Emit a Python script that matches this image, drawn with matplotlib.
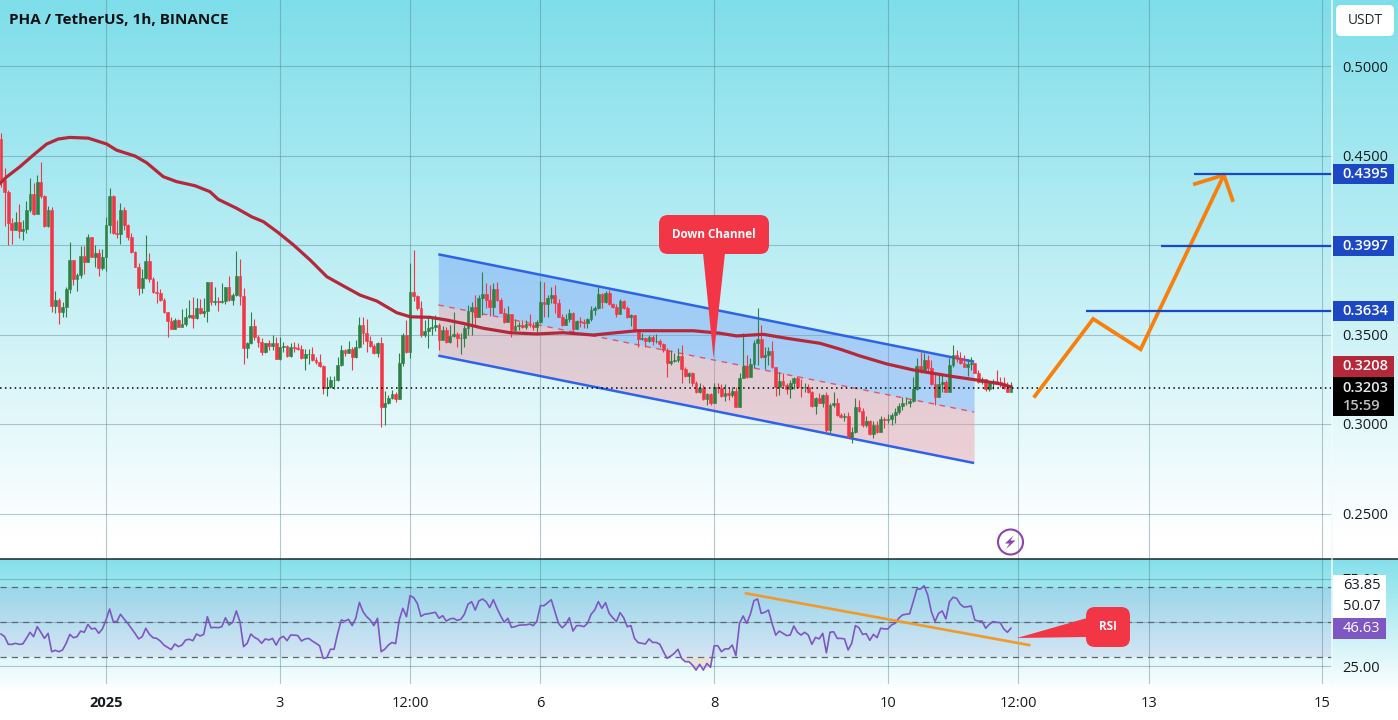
import numpy as np
import matplotlib
matplotlib.use("Agg")
import matplotlib.pyplot as plt
from matplotlib.patches import FancyBboxPatch, Polygon, Rectangle, Circle

plt.rcParams['font.family'] = ['Open Sans', 'DejaVu Sans']

W, H = 1398, 720
PANE_R = 1332      # right edge of the chart panes
MAIN_B = 559       # main pane / rsi pane border
RSI_B = 684        # bottom of rsi pane

first_open = 0.4592
closes = [
    .4363, .4298, .4125, .4084, .4130, .4080, .4087, .4195, .4285, .4173,
    .4354, .4273, .4106, .4195, .3659, .3693, .3627, .3652, .3756, .3916,
    .3808, .3832, .3938, .3907, .4043, .3935, .3953, .3869, .3931, .4111,
    .4273, .4065, .4061, .4195, .4111, .4043, .3963, .3879, .3761, .3814,
    .3910, .3808, .3739, .3733, .3693, .3624, .3575, .3531, .3581, .3544,
    .3558, .3599, .3607, .3590, .3646, .3618, .3629, .3793, .3683, .3687,
    .3680, .3685, .3763, .3693, .3722, .3827, .3715, .3424, .3454, .3547,
    .3488, .3460, .3404, .3450, .3436, .3450, .3363, .3428, .3436, .3380,
    .3428, .3423, .3421, .3367, .3391, .3393, .3357, .3348, .3324, .3199,
    .3208, .3246, .3246, .3328, .3413, .3398, .3417, .3372, .3428, .3553,
    .3506, .3465, .3436, .3395, .3450, .3093, .3115, .3147, .3167, .3141,
    .3339, .3497, .3402, .3735, .3715, .3646, .3497, .3521, .3534, .3544,
    .3553, .3469, .3525, .3460, .3492, .3501, .3479, .3482, .3538, .3633,
    .3656, .3600, .3702, .3724, .3693, .3656, .3752, .3693, .3622, .3572,
    .3615, .3525, .3548, .3553, .3544, .3559, .3555, .3540, .3572, .3684,
    .3670, .3702, .3721, .3678, .3600, .3553, .3585, .3622, .3529, .3577,
    .3572, .3566, .3585, .3637, .3646, .3726, .3683, .3734, .3670, .3656,
    .3615, .3689, .3646, .3596, .3609, .3522, .3475, .3479, .3464, .3488,
    .3464, .3466, .3447, .3414, .3339, .3350, .3358, .3380, .3306, .3268,
    .3283, .3227, .3181, .3199, .3138, .3168, .3116, .3205, .3203, .3157,
    .3171, .3162, .3185, .3097, .3256, .3324, .3261, .3336, .3451, .3473,
    .3373, .3386, .3410, .3317, .3209, .3243, .3218, .3194, .3228, .3259,
    .3209, .3205, .3209, .3181, .3101, .3144, .3120, .3161, .2967, .3107,
    .3120, .3051, .3038, .3045, .2926, .2958, .3097, .3075, .2995, .3014,
    .2945, .2995, .2958, .3027, .3023, .3030, .3049, .3069, .3101, .3116,
    .3120, .3127, .3194, .3324, .3302, .3358, .3311, .3222, .3153, .3222,
    .3237, .3181, .3330, .3386, .3367, .3343, .3321, .3336, .3339, .3287,
    .3237, .3250, .3194, .3231, .3243, .3237, .3228, .3203, .3181, .3203,
]
highs = [
    .4624, .4428, .4307, .4149, .4182, .4229, .4139, .4246, .4372, .4344,
    .4391, .4465, .4279, .4218, .4210, .3743, .3702, .3683, .3767, .4017,
    .3916, .3842, .3994, .3994, .4059, .4046, .3998, .3976, .3976, .4158,
    .4316, .4279, .4139, .4236, .4214, .4117, .4065, .3968, .3897, .3864,
    .4056, .3953, .3823, .3799, .3752, .3702, .3627, .3599, .3590, .3585,
    .3640, .3646, .3692, .3711, .3702, .3696, .3702, .3795, .3795, .3767,
    .3711, .3789, .3767, .3827, .3730, .3968, .3920, .3758, .3460, .3625,
    .3585, .3497, .3478, .3450, .3469, .3497, .3488, .3488, .3460, .3441,
    .3454, .3460, .3450, .3441, .3417, .3417, .3432, .3376, .3391, .3329,
    .3261, .3268, .3268, .3372, .3439, .3421, .3463, .3432, .3469, .3599,
    .3599, .3588, .3491, .3447, .3460, .3484, .3186, .3162, .3190, .3180,
    .3395, .3506, .3581, .3897, .3972, .3720, .3689, .3581, .3590, .3590,
    .3609, .3562, .3548, .3540, .3553, .3628, .3516, .3507, .3553, .3665,
    .3684, .3721, .3721, .3851, .3786, .3777, .3786, .3795, .3702, .3646,
    .3659, .3615, .3585, .3572, .3581, .3581, .3615, .3572, .3581, .3801,
    .3795, .3721, .3767, .3777, .3697, .3615, .3615, .3641, .3628, .3581,
    .3596, .3585, .3590, .3659, .3659, .3764, .3730, .3745, .3749, .3678,
    .3670, .3697, .3693, .3659, .3615, .3609, .3522, .3507, .3484, .3497,
    .3497, .3503, .3473, .3455, .3423, .3414, .3395, .3423, .3441, .3320,
    .3292, .3292, .3242, .3227, .3218, .3175, .3171, .3227, .3227, .3224,
    .3224, .3200, .3205, .3209, .3287, .3507, .3386, .3367, .3470, .3647,
    .3553, .3432, .3432, .3466, .3317, .3293, .3283, .3228, .3246, .3265,
    .3269, .3250, .3231, .3224, .3185, .3149, .3172, .3168, .3179, .3120,
    .3181, .3144, .3064, .3064, .3069, .2986, .3144, .3135, .3088, .3045,
    .3023, .3014, .3014, .3045, .3041, .3056, .3060, .3088, .3116, .3149,
    .3153, .3138, .3261, .3367, .3404, .3395, .3386, .3358, .3283, .3283,
    .3274, .3246, .3367, .3442, .3414, .3405, .3386, .3362, .3373, .3343,
    .3302, .3261, .3254, .3243, .3250, .3302, .3261, .3261, .3237, .3237,
]
lows = [
    .4326, .4106, .3999, .4005, .4084, .4037, .4028, .4065, .4186, .4167,
    .4177, .4260, .4102, .4098, .3627, .3618, .3558, .3599, .3599, .3730,
    .3776, .3745, .3814, .3838, .3907, .3931, .3879, .3827, .3860, .3856,
    .4065, .4061, .4037, .4005, .4084, .4028, .3957, .3875, .3720, .3733,
    .3808, .3795, .3733, .3674, .3689, .3618, .3488, .3529, .3529, .3540,
    .3540, .3547, .3590, .3534, .3586, .3614, .3599, .3568, .3665, .3665,
    .3633, .3674, .3670, .3689, .3665, .3717, .3665, .3335, .3367, .3447,
    .3469, .3428, .3385, .3395, .3413, .3413, .3361, .3357, .3404, .3376,
    .3376, .3404, .3413, .3363, .3302, .3335, .3354, .3333, .3320, .3167,
    .3156, .3203, .3194, .3238, .3324, .3380, .3395, .3302, .3369, .3423,
    .3447, .3404, .3428, .3391, .3376, .2985, .2996, .3112, .3138, .3123,
    .3138, .3326, .3398, .3369, .3689, .3637, .3488, .3484, .3426, .3497,
    .3521, .3413, .3479, .3451, .3455, .3484, .3432, .3391, .3432, .3497,
    .3497, .3553, .3600, .3609, .3646, .3603, .3609, .3689, .3618, .3562,
    .3570, .3488, .3522, .3525, .3535, .3529, .3540, .3525, .3503, .3562,
    .3600, .3596, .3674, .3622, .3596, .3548, .3553, .3572, .3516, .3529,
    .3540, .3535, .3535, .3577, .3609, .3644, .3646, .3674, .3665, .3646,
    .3596, .3615, .3643, .3590, .3548, .3516, .3428, .3469, .3432, .3460,
    .3441, .3455, .3428, .3404, .3265, .3330, .3348, .3348, .3231, .3261,
    .3227, .3212, .3175, .3175, .3134, .3106, .3106, .3116, .3171, .3153,
    .3127, .3135, .3153, .3097, .3094, .3256, .3256, .3265, .3311, .3330,
    .3367, .3306, .3330, .3311, .3157, .3163, .3209, .3168, .3144, .3194,
    .3205, .3149, .3181, .3172, .3094, .3056, .3116, .3094, .2952, .2952,
    .3094, .3045, .3032, .3014, .2920, .2896, .2952, .3069, .2986, .2986,
    .2939, .2920, .2952, .2956, .2980, .3004, .2995, .3004, .3056, .3079,
    .3107, .3094, .3125, .3190, .3283, .3293, .3293, .3218, .3107, .3149,
    .3181, .3179, .3177, .3321, .3349, .3336, .3317, .3269, .3302, .3283,
    .3231, .3224, .3187, .3187, .3194, .3231, .3205, .3198, .3179, .3179,
]
rsi_values = [
    43.3, 41.8, 37.4, 37.4, 38.0, 37.4, 37.6, 40.8, 44.3, 41.8,
    47.5, 44.3, 40.8, 43.7, 33.2, 34.0, 33.2, 34.2, 38.0, 43.1,
    41.2, 41.8, 45.0, 44.3, 48.8, 46.2, 46.6, 43.7, 46.2, 51.3,
    57.6, 50.4, 50.4, 54.6, 51.9, 49.4, 46.6, 43.7, 40.5, 41.8,
    46.6, 43.1, 41.2, 40.8, 39.3, 37.0, 35.7, 34.4, 37.6, 36.1,
    37.0, 39.9, 40.3, 39.5, 43.3, 42.2, 43.1, 53.2, 46.9, 47.1,
    46.9, 47.5, 52.6, 48.5, 50.0, 56.5, 50.4, 36.1, 38.0, 43.3,
    41.4, 40.3, 38.0, 40.5, 39.9, 40.8, 37.0, 40.8, 42.0, 39.5,
    42.7, 42.7, 42.4, 39.3, 40.5, 40.8, 39.3, 38.0, 36.6, 29.4,
    29.8, 34.6, 34.6, 43.7, 51.3, 50.7, 51.7, 48.1, 52.3, 61.4,
    56.1, 53.2, 51.3, 48.1, 52.3, 33.2, 34.6, 37.0, 38.5, 37.8,
    51.3, 58.0, 53.2, 65.2, 64.1, 60.8, 53.4, 54.6, 54.9, 55.3,
    55.7, 52.3, 53.8, 50.7, 51.9, 52.3, 51.1, 51.7, 54.6, 60.3,
    61.8, 57.0, 62.2, 63.3, 61.8, 58.4, 62.9, 58.0, 53.8, 50.0,
    52.3, 47.1, 47.5, 48.3, 48.5, 48.5, 49.0, 48.1, 50.4, 59.5,
    59.5, 61.2, 62.9, 56.1, 49.4, 46.9, 48.8, 52.6, 45.0, 48.1,
    48.1, 47.5, 49.4, 54.6, 57.0, 61.8, 58.0, 61.2, 55.1, 52.6,
    50.4, 55.5, 52.6, 47.5, 48.1, 40.8, 38.4, 38.0, 37.6, 40.5,
    38.5, 38.5, 37.4, 33.2, 29.4, 30.7, 32.3, 34.6, 29.4, 27.5,
    27.5, 25.6, 22.7, 26.0, 22.7, 26.5, 24.3, 36.6, 36.6, 33.2,
    34.8, 34.8, 37.0, 30.9, 49.4, 53.6, 49.4, 54.6, 62.4, 63.3,
    55.1, 55.7, 57.0, 49.4, 42.7, 45.0, 43.7, 42.4, 42.7, 47.9,
    44.3, 42.7, 44.3, 42.7, 37.4, 41.4, 40.5, 43.7, 32.6, 44.3,
    44.6, 40.8, 40.8, 40.5, 34.2, 38.0, 48.1, 46.9, 43.1, 43.5,
    39.7, 43.1, 41.2, 46.6, 46.2, 46.2, 48.5, 49.4, 52.3, 54.2,
    54.6, 54.9, 61.8, 69.0, 69.0, 70.9, 65.6, 56.1, 50.4, 55.1,
    56.5, 51.9, 61.8, 64.3, 63.7, 60.3, 58.7, 58.9, 59.3, 51.3,
    50.7, 50.7, 46.6, 48.8, 50.4, 50.0, 49.8, 46.2, 44.3, 46.63,
]
ema_hours = [
    -29.3, -27.4, -23.8, -20.1, -16.4, -13.2, -10.0, -4.9, 0.2, 2.9, 8.0, 11.2,
    15.8, 19.5, 24.6, 28.7, 31.0, 36.1, 40.2, 43.5, 47.6, 51.8, 56.4, 61.0,
    65.6, 70.2, 74.8, 80.3, 84.0, 89.5, 94.1, 98.7, 104.2, 111.6, 119.0, 126.3,
    134.6, 141.0, 146.6, 154.0, 162.2, 169.6, 174.2, 181.6, 188.0, 197.2, 202.8,
    208.3, 215.6, 223.0, 228.5, 234.0, 240.5, 247.0, 250.0,
]
ema_values = [
    .4344, .4381, .4437, .4502, .4564, .4592, .4601, .4597, .4564, .4530, .4497, .4460,
    .4382, .4354, .4331, .4298, .4255, .4205, .4158, .4130, .4069, .4000, .3916, .3823,
    .3771, .3720, .3687, .3622, .3599, .3596, .3581, .3562, .3535, .3510, .3503, .3510,
    .3497, .3510, .3521, .3521, .3521, .3507, .3492, .3501, .3479, .3451, .3418,
    .3380, .3336, .3302, .3283, .3265, .3246, .3224, .3208,
]
# parallel channel drawn on the chart: start and end of each rail
channel_hours = [91.8, 239.8]
channel_top = [.3948, .3348]
channel_mid = [.3665, .3067]
channel_bottom = [.3382, .2782]
# projected path and target levels
path_hours = [256.6, 272.7, 285.8, 308.8]
path_prices = [.3156, .3587, .3417, .4391]
head_hours = [300.8, 308.8, 311.2]
head_prices = [.4341, .4391, .4251]
target_levels = [.4395, .3997, .3634]
target_starts = [300.6, 291.4, 270.7]
last_price = .3203
ema_last = .3208
rsi_last = 46.63
rsi_trend_hours = [176.8, 255.0]
rsi_trend_values = [66.55, 37.0]

price_ticks = [.25, .30, .35, .40, .45, .50]
price_labels = ['0.2500', '0.3000', '0.3500', '', '0.4500', '0.5000']
rsi_ticks = [25, 50, 75]
rsi_labels = ['25.00', '50.00', '75.00']
time_ticks = [0, 48, 84, 120, 168, 216, 252, 288, 336]
time_labels = ['2025', '3', '12:00', '6', '8', '10', '12:00', '13', '15']

hours = np.arange(len(closes)) - 29
opens = np.array([first_open] + closes[:-1])
closes = np.array(closes)
highs = np.array(highs)
lows = np.array(lows)
rsi_values = np.array(rsi_values)

GREEN = '#2f8044'
RED = '#f23645'
GRID = '#4f7f88'
BLUE = '#1a46c8'
ORANGE = '#f97f0c'
DARK = '#161c20'

fig = plt.figure(figsize=(W / 100, H / 100), dpi=100)


def pane(left, top, right, bottom, **kw):
    return fig.add_axes([left / W, 1 - bottom / H, (right - left) / W, (bottom - top) / H], **kw)


# background gradient, main pane then the lower part
bg = pane(0, 0, W, H)
bg.set_zorder(0)
bg.axis('off')
grad = np.zeros((H, 1, 3))
top_col = np.array([126, 222, 234]) / 255
t = np.clip(np.arange(MAIN_B) / 535, 0, 1)[:, None]
grad[:MAIN_B, 0, :] = top_col * (1 - t) + t
low_top = np.array([132, 224, 235]) / 255
t = np.clip(np.arange(H - MAIN_B) / 131, 0, 1)[:, None]
grad[MAIN_B:, 0, :] = low_top * (1 - t) + t
bg.imshow(grad, aspect='auto', extent=(0, W, H, 0), interpolation='nearest')
bg.set_xlim(0, W)
bg.set_ylim(H, 0)

xlim = ((0 - 106) / 3.62, (PANE_R - 106) / 3.62)

# main pane
ax = pane(0, 0, PANE_R, MAIN_B)
ax.set_zorder(2)
ax.patch.set_alpha(0)
ax.set_xlim(*xlim)
ax.set_ylim(.5 - (MAIN_B - 66) / 1790, .5 + 66 / 1790)
ax.set_xticks(time_ticks)
ax.set_yticks(price_ticks)
ax.set_yticklabels(price_labels)
ax.tick_params(axis='x', length=0, labelbottom=False)
ax.tick_params(axis='y', length=0, labelleft=False, labelright=True, pad=7.2, labelsize=10.5, labelcolor=DARK)
ax.grid(True, color=GRID, lw=0.8, alpha=0.42)
ax.set_axisbelow(True)
for s in ax.spines.values():
    s.set_visible(False)

ax.fill_between(channel_hours, channel_mid, channel_top, color='#6a9cf5', alpha=0.42, lw=0, zorder=1)
ax.fill_between(channel_hours, channel_bottom, channel_mid, color='#f08a98', alpha=0.38, lw=0, zorder=1)
ax.plot(channel_hours, channel_top, color='#2f62ea', lw=1.8, zorder=2, solid_capstyle='butt')
ax.plot(channel_hours, channel_bottom, color='#2f62ea', lw=1.8, zorder=2, solid_capstyle='butt')
ax.plot(channel_hours, channel_mid, color='#e0566a', lw=1, ls=(0, (4, 4)), zorder=2)

up = closes >= opens
for mask, col in ((up, GREEN), (~up, RED)):
    ax.vlines(hours[mask], lows[mask], highs[mask], color=col, lw=0.8, zorder=3)
    ax.bar(hours[mask], np.abs(closes - opens)[mask], width=0.78,
           bottom=np.minimum(closes, opens)[mask], color=col, edgecolor=col, lw=0.4, zorder=3)

ax.plot(ema_hours, ema_values, color='#b5283a', lw=2.3, zorder=4)
ax.axhline(last_price, color='black', lw=1.1, ls=(0, (1, 2.2)), zorder=4)

ax.plot(path_hours, path_prices, color=ORANGE, lw=2.7, zorder=5, solid_joinstyle='miter')
ax.plot(head_hours, head_prices, color=ORANGE, lw=2.7, zorder=5, solid_joinstyle='miter')
for lvl, st in zip(target_levels, target_starts):
    ax.plot([st, xlim[1]], [lvl, lvl], color=BLUE, lw=1.6, zorder=6, solid_capstyle='butt')

# rsi pane
ax2 = pane(0, MAIN_B, PANE_R, RSI_B)
ax2.set_zorder(2)
ax2.patch.set_alpha(0)
ax2.set_xlim(*xlim)
ax2.set_ylim(50 - (RSI_B - 622.3) / 1.75, 50 + (622.3 - MAIN_B) / 1.75)
ax2.set_xticks(time_ticks)
ax2.set_xticklabels(time_labels)
ax2.set_yticks(rsi_ticks)
ax2.set_yticklabels(rsi_labels)
ax2.tick_params(axis='x', length=0, pad=8.5, labelsize=10.5, labelcolor=DARK)
ax2.tick_params(axis='y', length=0, labelleft=False, labelright=True, pad=7.2, labelsize=10.5, labelcolor=DARK)
ax2.get_xticklabels()[0].set_fontweight('bold')
ax2.grid(True, color=GRID, lw=0.8, alpha=0.42)
ax2.set_axisbelow(True)
for s in ax2.spines.values():
    s.set_visible(False)

ax2.axhspan(30, 70, color='#7e57c2', alpha=0.11, lw=0, zorder=1)
for lvl in (70, 50, 30):
    ax2.axhline(lvl, color='#5c6670', lw=0.9, ls=(0, (5, 4)), zorder=2)
ax2.fill_between(hours, rsi_values, 30, where=rsi_values < 30, interpolate=True,
                 color='#ff9a5c', alpha=0.22, lw=0, zorder=2)
ax2.plot(hours, rsi_values, color='#7e57c2', lw=1.2, zorder=3)
ax2.plot(rsi_trend_hours, rsi_trend_values, color='#ef9a2b', lw=1.9, zorder=4)

# overlay in pixel coordinates: axis labels, callouts, title
ov = pane(0, 0, W, H)
ov.set_zorder(5)
ov.axis('off')
ov.set_xlim(0, W)
ov.set_ylim(H, 0)

ov.plot([0, W], [MAIN_B, MAIN_B], color='#20262a', lw=1.1)
ov.plot([PANE_R, PANE_R], [0, MAIN_B - 1], color='#f0fbfd', lw=1.1)
ov.plot([PANE_R, PANE_R], [MAIN_B + 1, H - 36], color='#f0fbfd', lw=1.1)
ov.text(9, 20, 'PHA / TetherUS, 1h, BINANCE', fontsize=10.95, fontweight='bold', color='#0d1114', va='center')

ov.add_patch(FancyBboxPatch((1339, 8), 52, 25, boxstyle='round,pad=3,rounding_size=5', fc='white', ec='none'))
ov.text(1365, 20.5, 'USDT', fontsize=9.8, color='#20282c', ha='center', va='center')


def axis_tag(y0, y1, label, fc, tc='white', x1=1394, weight='semibold'):
    ov.add_patch(Rectangle((1333, y0), x1 - 1333, y1 - y0, fc=fc, ec='none'))
    ov.text(1342, (y0 + y1) / 2, label, fontsize=10.5, color=tc, va='center', fontweight=weight)


for lvl, txt in zip(target_levels, ['0.4395', '0.3997', '0.3634']):
    yc = 66 + (.5 - lvl) * 1790
    axis_tag(yc - 10, yc + 10, txt, '#1c48c4')
axis_tag(356, 377, '%.4f' % ema_last, '#b5283a')
ov.add_patch(Rectangle((1333, 377), 61, 39, fc='black', ec='none'))
ov.text(1342, 387.5, '%.4f' % last_price, fontsize=10.5, color='#e8e8e8', va='center', fontweight='semibold')
ov.text(1343, 405.5, '15:59', fontsize=10.5, color='#c0c0c0', va='center', fontweight='semibold')

# rsi axis
ov.add_patch(Rectangle((1333, 575), 53, 43, fc='white', ec='none'))
ov.text(1343, 585.5, '63.85', fontsize=10.5, color=DARK, va='center')
ov.text(1343, 606.5, '50.07', fontsize=10.5, color=DARK, va='center')
ov.add_patch(Rectangle((1333, 618), 53, 21, fc='#7e57c2', ec='none'))
ov.text(1343, 628.5, '%.2f' % rsi_last, fontsize=10.5, color='white', va='center')


def callout(x0, y0, x1, y1, pts, label, size):
    ov.add_patch(Polygon(pts, closed=True, fc=RED, ec='none', zorder=6))
    ov.add_patch(FancyBboxPatch((x0 + 9, y0 + 9), x1 - x0 - 18, y1 - y0 - 18,
                                boxstyle='round,pad=9,rounding_size=9', fc=RED, ec='none', zorder=6))
    ov.text((x0 + x1) / 2, (y0 + y1) / 2, label, color='white', fontsize=size, fontweight='bold',
            ha='center', va='center', zorder=7)


callout(659, 215, 769, 254, [(703, 253), (725, 253), (713.5, 358)], 'Down Channel', 8.4)
callout(1086, 607, 1130, 647, [(1017, 638), (1087, 618), (1087, 637)], 'RSI', 8.4)

# purple flash icon
ov.add_patch(Circle((1010.5, 542), 12.5, fc='none', ec='#8a44b4', lw=1.5))
ov.add_patch(Polygon([(1013.5, 535.5), (1005, 543.5), (1009.5, 543.5), (1006, 549), (1015.5, 540.5), (1010.5, 540.5)],
                     closed=True, fc='#8a44b4', ec='none'))

fig.savefig('out.png', dpi=100)
